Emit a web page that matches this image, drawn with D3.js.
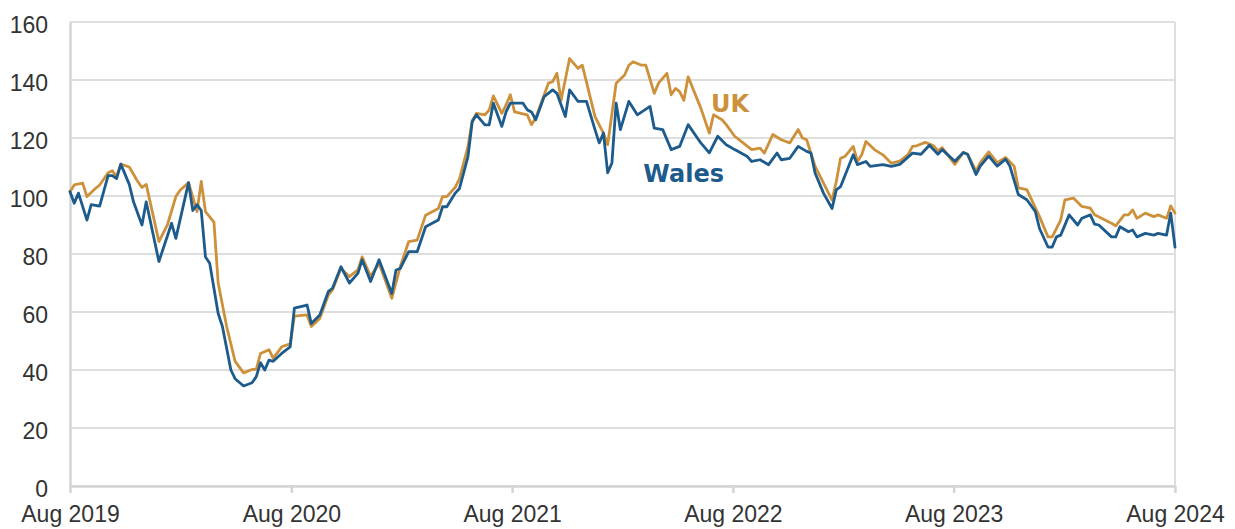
<!DOCTYPE html>
<html>
<head>
<meta charset="utf-8">
<script src="https://cdn.jsdelivr.net/npm/d3@7"></script>
<style>
  body { margin: 0; background: #fff; }
  .axis text { font-family: "Liberation Sans", Arial, sans-serif; font-size: 23px; fill: #333; }
  .label { font-family: "DejaVu Sans", Verdana, sans-serif; font-weight: bold; font-size: 24px; }
</style>
</head>
<body>
<div id="chart"></div>
<script>
// weeks counted from 1 Aug 2019
var ukWeeks = [0,1,3,4,6,7,9,10,11,12,14,16,17,18,21,23,25,26,28,30,31,32,34,35,37,39,41,43,44,45,47,48,50,52,
  53,56,57,59,61,62,64,66,68,69,71,73,76,78,80,82,84,87,88,89,91,92,94,95,96,98,99,100,102,103,104,105,108,109,110,
  113,114,115,116,118,120,121,124,126,127,129,131,132,133,135,136,138,139,141,142,143,144,145,146,149,151,152,154,155,
  157,159,161,163,164,166,168,170,172,173,174,176,180,181,182,183,185,186,187,188,190,192,194,196,198,199,200,202,204,
  205,206,209,211,212,214,215,217,219,221,223,224,226,229,231,232,234,235,237,239,241,242,246,247,249,250,251,252,254,
  256,257,259,260,261];
var ukValues = [101.5,103.8,104.4,99.8,102.6,103.8,108,108.7,106.7,111,110,105,103,104,84.3,90,99.8,102,104.6,94.6,105,94.6,91,70,55,43,39,40.2,40.2,45.7,47,44,48,49,
  58.6,59,55,57.8,65.8,67.6,75,72.2,74.5,79,72.2,76.8,64.7,75.6,84.3,84.8,93.4,95.7,99.8,99.8,103,106,117,126,128.5,128,129.6,134.5,128.5,131.4,134.9,129,128,124.6,126.9,
  138.9,139.4,142.3,133,147.4,144,145.1,127.4,121.7,117.7,138.9,141.7,145.1,146.3,145.1,145.1,135.4,138.9,142.3,134.9,137.1,136,133,141.1,130.3,121.7,128,126.3,124.6,
  120.6,118.3,116,116.5,114.8,121.2,119.4,118.3,122.9,120,119.4,110.2,98.6,105,113,113.6,117.1,111.9,114.2,118.8,116,114.2,111.3,112,114.4,117.1,117.3,118.5,117.3,
  115.6,116.7,110.9,115,114.4,108.6,111.5,115.2,111.5,113.3,110.3,102.8,102.2,92.9,85.9,85.9,91.7,98.7,99.3,96.4,95.8,93.5,90.6,89.7,93.5,93.5,95.2,92.3,94.1,
  92.9,93.5,92.3,96.6,94.1];

var walesWeeks = [0,1,2,4,5,7,9,10,11,12,14,15,17,18,21,24,25,28,29,30,31,32,33,35,36,38,39,41,43,44,45,46,47,48,50,52,
  53,56,57,59,61,62,64,66,68,69,71,73,76,77,78,80,82,84,87,88,89,91,92,94,95,96,98,99,100,102,103,104,107,108,109,110,
  112,114,115,117,118,120,122,124,125,126,127,128,129,130,132,134,137,138,140,142,144,146,149,151,153,155,157,160,161,
  163,165,167,168,170,172,174,175,176,178,180,181,182,185,186,188,189,192,194,196,199,201,203,205,206,209,211,212,214,
  215,217,219,221,222,224,226,228,229,231,232,233,234,236,238,239,241,242,243,246,247,248,250,251,252,254,256,257,259,260,261];
var walesValues = [101.5,97.5,101,91.7,97,96.5,107,107,106,111,104,98,90,98,77.4,90.6,85.4,104.6,95,97,95,79,76.8,59.5,55,40,37,34.5,35.6,37.7,42.5,40,43.4,43,45.7,48,
  61.3,62.4,56,59,67,68.2,75.6,70,73.3,78,70.5,78,66.4,74.5,75,80.8,80.8,89.4,91.7,96.3,96.3,101,102.6,113.6,125.6,128,124.5,124.5,132,124,129,132,132,129.7,129,126.3,
  134.3,136.6,135.4,127.4,136.6,132.6,132.6,122.9,118.3,121.7,108,111.4,132,122.9,132.6,128,130.9,123.4,122.9,116,117.1,124.6,118.3,114.9,120.6,117.7,116,113.6,111.9,
  112.5,110.8,114.8,112.5,113,117.1,115.4,114.8,107.9,100.9,95.7,102.1,103.2,114.2,110.8,111.9,110.2,110.8,110.2,110.9,114.8,114.4,117.5,114.4,116,112,115,114.4,107.4,
  110.3,113.8,110.3,112.7,110.3,100.5,98.7,94.7,88.8,82.4,82.4,85.9,86.5,93.5,90,92.3,93.5,90.3,90,85.9,85.9,89.4,87.7,88.3,85.9,87.1,86.5,87.1,86.5,94.1,82.4];

var yTicks = [0, 20, 40, 60, 80, 100, 120, 140, 160];
var tickYears = [2019, 2020, 2021, 2022, 2023, 2024];
var seriesNames = ["UK", "Wales"];
var seriesColors = ["#cc913a", "#1d5b8c"];

var width = 1235, height = 529;
var margin = {top: 22, right: 60, bottom: 43, left: 70};

var startDate = new Date(2019, 7, 1);
function weekDate(w){ return d3.timeDay.offset(startDate, w * 7); }

var svg = d3.select("#chart").append("svg")
  .attr("width", width)
  .attr("height", height);

var x = d3.scaleTime()
  .domain([startDate, new Date(2024, 7, 1)])
  .range([margin.left, width - margin.right]);
var y = d3.scaleLinear()
  .domain([0, 160])
  .range([height - margin.bottom, margin.top]);

// gridlines
svg.append("g")
  .selectAll("line")
  .data(yTicks)
  .enter()
  .append("line")
  .attr("x1", margin.left)
  .attr("x2", width - margin.right)
  .attr("y1", function(d){ return y(d); })
  .attr("y2", function(d){ return y(d); })
  .attr("stroke", "#dedede")
  .attr("stroke-width", 2);

// right border
svg.append("line")
  .attr("x1", width - margin.right).attr("x2", width - margin.right)
  .attr("y1", margin.top).attr("y2", height - margin.bottom)
  .attr("stroke", "#dedede")
  .attr("stroke-width", 2);

// y axis
var yAxis = svg.append("g")
  .attr("class", "axis")
  .attr("transform", "translate(" + margin.left + ",0)")
  .call(d3.axisLeft(y).tickValues(yTicks).tickSize(0).tickPadding(22));
yAxis.select(".domain").attr("stroke", "#d4d4d4").attr("stroke-width", 2.5);
yAxis.selectAll("text").attr("dy", "0.45em");

// x axis
var xAxis = svg.append("g")
  .attr("class", "axis")
  .attr("transform", "translate(0," + y(0) + ")")
  .call(d3.axisBottom(x)
    .tickValues(tickYears.map(function(yr){ return new Date(yr, 7, 1); }))
    .tickFormat(d3.timeFormat("%b %Y"))
    .tickSize(7)
    .tickSizeOuter(0)
    .tickPadding(13));
xAxis.select(".domain").attr("stroke", "#d4d4d4").attr("stroke-width", 2.5);
xAxis.selectAll(".tick line").attr("stroke", "#d4d4d4").attr("stroke-width", 2.5);

var line = d3.line()
  .x(function(d){ return x(weekDate(d.w)); })
  .y(function(d){ return y(d.v); });

function toPoints(weeks, values){
  var arr = [];
  for (var i = 0 ; i < weeks.length ; i++){
    arr.push({w: weeks[i], v: values[i]});
  }
  return arr;
}

var series = [toPoints(ukWeeks, ukValues), toPoints(walesWeeks, walesValues)];

for (var s = 0 ; s < series.length ; s++){
  svg.append("path")
    .datum(series[s])
    .attr("fill", "none")
    .attr("stroke", seriesColors[s])
    .attr("stroke-width", 2.8)
    .attr("stroke-linejoin", "round")
    .attr("stroke-linecap", "round")
    .attr("d", line);
}

// series labels
var labelPos = [{w: 151.5, v: 129}, {w: 135.5, v: 105}];
for (var s = 0 ; s < seriesNames.length ; s++){
  svg.append("text")
    .attr("class", "label")
    .attr("x", x(weekDate(labelPos[s].w)))
    .attr("y", y(labelPos[s].v))
    .attr("fill", seriesColors[s])
    .text(seriesNames[s]);
}
</script>
</body>
</html>
